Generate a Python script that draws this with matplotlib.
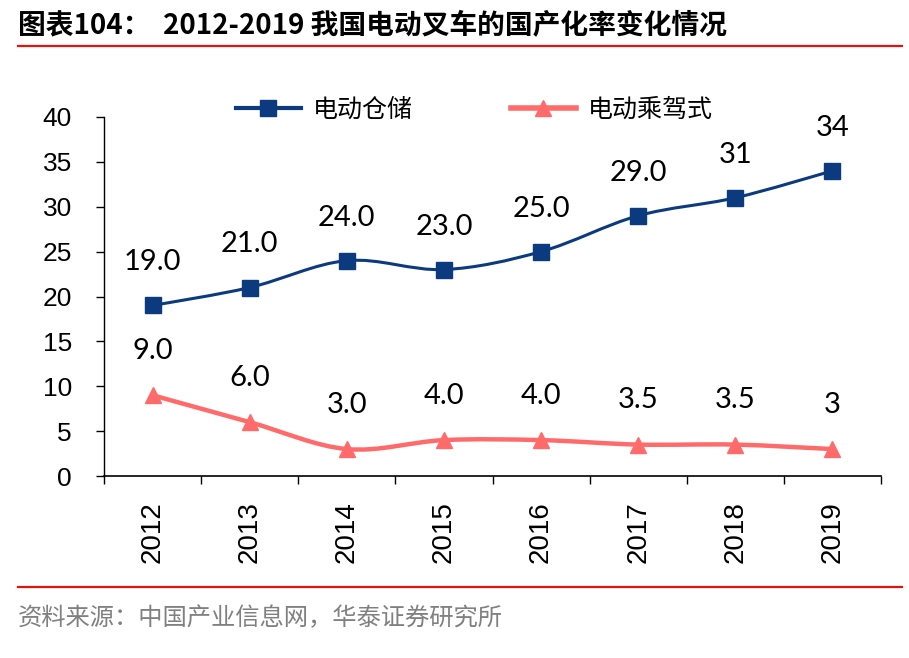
import numpy as np
import matplotlib
matplotlib.use("Agg")
import matplotlib.pyplot as plt
from matplotlib.path import Path
from matplotlib.patches import PathPatch
from matplotlib.lines import Line2D

years = ["2012", "2013", "2014", "2015", "2016", "2017", "2018", "2019"]
warehouse = [19, 21, 24, 23, 25, 29, 31, 34]
warehouse_labels = ["19.0", "21.0", "24.0", "23.0", "25.0", "29.0", "31", "34"]
rider = [9, 6, 3, 4, 4, 3.5, 3.5, 3]
rider_labels = ["9.0", "6.0", "3.0", "4.0", "4.0", "3.5", "3.5", "3"]

BLUE = "#0B3B7E"
RED = "#FF6B6B"
CJK = ["Noto Sans CJK SC", "DejaVu Sans"]
NUM = ["Liberation Sans", "DejaVu Sans"]
LBL = ["Lato", "DejaVu Sans"]


def smooth_path(xs, ys):
    """Catmull-Rom style bezier path through the points (like Excel smoothed lines)."""
    pts = np.column_stack([xs, ys]).astype(float)
    ext = np.vstack([pts[0], pts, pts[-1]])
    verts = [pts[0]]
    codes = [Path.MOVETO]
    for i in range(len(pts) - 1):
        p0, p1, p2, p3 = ext[i], ext[i + 1], ext[i + 2], ext[i + 3]
        c1 = p1 + (p2 - p0) / 6
        c2 = p2 - (p3 - p1) / 6
        verts += [c1, c2, p2]
        codes += [Path.CURVE4] * 3
    return Path(verts, codes)


fig = plt.figure(figsize=(9.09, 6.58), dpi=100)
ax = fig.add_axes([104 / 909, 1 - 476 / 658, 777 / 909, 359 / 658])

x = np.arange(len(years))

ax.add_patch(PathPatch(smooth_path(x, warehouse), fill=False, edgecolor=BLUE, lw=2.2,
                       capstyle="round", zorder=3))
ax.add_patch(PathPatch(smooth_path(x, rider), fill=False, edgecolor=RED, lw=3.2,
                       capstyle="round", zorder=3))
ax.plot(x, warehouse, linestyle="none", marker="s", markersize=11, color=BLUE, zorder=4)
ax.plot(x, rider, linestyle="none", marker="^", markersize=12, color=RED, zorder=4)

for xi, v, t in zip(x, warehouse, warehouse_labels):
    ax.annotate(t, (xi, v), xytext=(0, 31), textcoords="offset points",
                ha="center", va="center", fontsize=21, family=LBL, color="black")
for xi, v, t in zip(x, rider, rider_labels):
    ax.annotate(t, (xi, v), xytext=(0, 32), textcoords="offset points",
                ha="center", va="center", fontsize=21, family=LBL, color="black")

ax.set_xlim(-0.5, len(years) - 0.5)
ax.set_ylim(0, 40)
ax.set_yticks(np.arange(0, 41, 5))
ax.set_xticks(x)
ax.set_xticklabels(years, rotation=90, family=NUM, fontsize=20)
ax.set_xticks(np.arange(-0.5, len(years), 1), minor=True)
ax.tick_params(axis="x", which="major", length=0, pad=18)
ax.tick_params(axis="x", which="minor", length=5.5, width=1, direction="out")
ax.tick_params(axis="y", length=6, width=1, direction="out", pad=17)
for lab in ax.get_yticklabels():
    lab.set_family(NUM)
    lab.set_fontsize(19)

for s in ["top", "right"]:
    ax.spines[s].set_visible(False)
ax.spines["left"].set_linewidth(1)
ax.spines["bottom"].set_linewidth(1.2)

handles = [
    Line2D([], [], color=BLUE, lw=3, marker="s", markersize=11),
    Line2D([], [], color=RED, lw=4, marker="^", markersize=12),
]
fig.legend(handles, ["电动仓储", "电动乘驾式"], loc="center",
           bbox_to_anchor=(0.522, 1 - 110 / 658), ncol=2, frameon=False,
           prop={"family": CJK, "size": 18}, handlelength=2.6, handletextpad=0.5,
           columnspacing=3.9)

# title + red rules + source
fig.text(18 / 909, 1 - 26 / 658, "图表104：", family=CJK, fontweight="bold",
         fontsize=20, va="center", ha="left")
fig.text(163 / 909, 1 - 26 / 658, "2012-2019 我国电动叉车的国产化率变化情况", family=CJK,
         fontweight="bold", fontsize=20, va="center", ha="left")
fig.add_artist(Line2D([18 / 909, 902 / 909], [1 - 46 / 658] * 2, color="#E3140B", lw=1.6))
fig.add_artist(Line2D([18 / 909, 902 / 909], [1 - 587 / 658] * 2, color="#E3140B", lw=1.6))
fig.text(18 / 909, 1 - 618 / 658, "资料来源：中国产业信息网，华泰证券研究所", family=CJK,
         fontsize=17.5, color="#808080", va="center", ha="left")

fig.savefig("out.png", dpi=100)
